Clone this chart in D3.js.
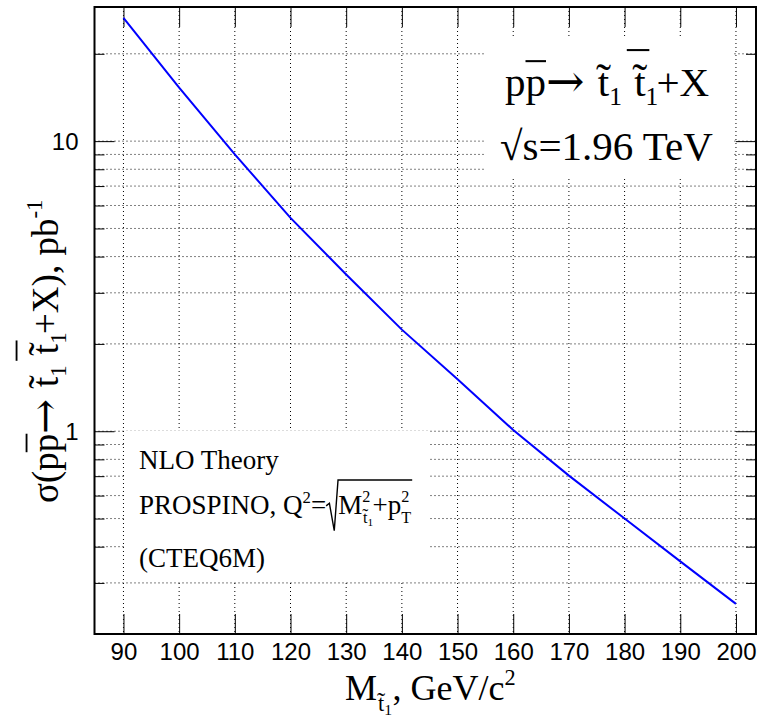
<!DOCTYPE html>
<html><head><meta charset="utf-8">
<script src="https://cdn.jsdelivr.net/npm/d3@7/dist/d3.min.js"></script>
<style>body{margin:0;background:#fff}svg{display:block}</style>
</head><body>
<script>
// ---- data ----
const masses = [90, 100, 110, 120, 130, 140, 150, 160, 170, 180, 190, 200];
const sigma  = [26.6, 15.3, 9.0, 5.44, 3.47, 2.24, 1.51, 1.01, 0.703, 0.50, 0.356, 0.254];
const xTicks = [90, 100, 110, 120, 130, 140, 150, 160, 170, 180, 190, 200];
const yMajor = [1, 10];
const yMinor = [0.2, 0.3, 0.4, 0.5, 0.6, 0.7, 0.8, 0.9, 2, 3, 4, 5, 6, 7, 8, 9, 20];
const yTickLabels = ["1", "10"];

// ---- layout ----
const W = 757, H = 717;
const L = 94.5, R = 756, T = 7, B = 634;
const SERIF = "'Liberation Serif','Times New Roman',serif";
const SANS = "'Liberation Sans',Arial,Helvetica,sans-serif";
const ARROWFONT = "'DejaVu Serif','DejaVu Sans',serif";

const svg = d3.select("body").append("svg").attr("width", W).attr("height", H);
svg.append("rect").attr("width", W).attr("height", H).attr("fill", "#fff");

const x = d3.scaleLinear().domain([84.8, 203.6]).range([L, R]);
const y = d3.scaleLog().domain([0.2, 29]).range([B, T]);

// grid
const grid = svg.append("g").attr("stroke", "#000").attr("stroke-width", 1)
  .attr("stroke-dasharray", "1,3").attr("fill", "none");
xTicks.forEach(v => grid.append("line").attr("x1", x(v)).attr("x2", x(v)).attr("y1", T).attr("y2", B));
yMajor.concat(yMinor).forEach(v => grid.append("line").attr("y1", y(v)).attr("y2", y(v)).attr("x1", L).attr("x2", R));

// white label boxes (cover grid)
svg.append("rect").attr("x", 485).attr("y", 37).attr("width", 249).attr("height", 141).attr("fill", "#fff");
svg.append("rect").attr("x", 124.5).attr("y", 431).attr("width", 304).attr("height", 151).attr("fill", "#fff");

// axes (ROOT-like inward ticks)
function styleAxis(g) {
  g.select(".domain").remove();
  g.selectAll("line").attr("stroke", "#000").attr("stroke-width", 1);
}
const bottomAx = svg.append("g").attr("transform", `translate(0,${B})`)
  .call(d3.axisBottom(x).tickValues(xTicks).tickSize(-20).tickFormat(d3.format("d")));
styleAxis(bottomAx);
bottomAx.selectAll("text").attr("font-family", SANS).attr("font-size", 24).attr("fill", "#000")
  .attr("y", 26).attr("dy", 0);
const topAx = svg.append("g").attr("transform", `translate(0,${T})`)
  .call(d3.axisTop(x).tickValues(xTicks).tickSize(-20).tickFormat(""));
styleAxis(topAx);

const leftMaj = svg.append("g").attr("transform", `translate(${L},0)`)
  .call(d3.axisLeft(y).tickValues(yMajor).tickSize(-20).tickFormat((d, i) => yTickLabels[i]));
styleAxis(leftMaj);
leftMaj.selectAll("text").attr("font-family", SANS).attr("font-size", 24).attr("fill", "#000")
  .attr("x", -16).attr("dy", "0.36em");
const leftMin = svg.append("g").attr("transform", `translate(${L},0)`)
  .call(d3.axisLeft(y).tickValues(yMinor).tickSize(-10).tickFormat(""));
styleAxis(leftMin);
const rightMaj = svg.append("g").attr("transform", `translate(${R},0)`)
  .call(d3.axisRight(y).tickValues(yMajor).tickSize(-20).tickFormat(""));
styleAxis(rightMaj);
const rightMin = svg.append("g").attr("transform", `translate(${R},0)`)
  .call(d3.axisRight(y).tickValues(yMinor).tickSize(-10).tickFormat(""));
styleAxis(rightMin);

// frame
svg.append("rect").attr("x", L).attr("y", T).attr("width", R - L).attr("height", B - T)
  .attr("fill", "none").attr("stroke", "#000").attr("stroke-width", 2);

// curve
const line = d3.line().x((d, i) => x(masses[i])).y(d => y(d));
svg.append("path").datum(sigma).attr("d", line).attr("fill", "none")
  .attr("stroke", "#0000ff").attr("stroke-width", 2);

// ---- rich text helper (ROOT TLatex-like) ----
function put(g, str, px, py, size, anchor, font) {
  const t = g.append("text").attr("x", px).attr("y", py).attr("font-size", size)
    .attr("font-family", font || SERIF).attr("fill", "#000").text(str);
  if (anchor) t.attr("text-anchor", anchor);
  return t.node().getComputedTextLength();
}
function measure(g, str, size, font) {
  const t = g.append("text").attr("font-size", size).attr("font-family", font || SERIF).text(str);
  const w = t.node().getComputedTextLength();
  t.remove();
  return w;
}
function bar(g, x1, x2, yy, size) {
  g.append("line").attr("x1", x1).attr("x2", x2).attr("y1", yy).attr("y2", yy)
    .attr("stroke", "#000").attr("stroke-width", Math.max(1.2, size * 0.05));
}
function layout(g, segs, x0, y0, size) {
  if (typeof segs === "string") segs = [{ t: segs }];
  let cx = x0;
  for (const s of segs) {
    if (typeof s === "string") { cx += put(g, s, cx, y0, size); continue; }
    if (s.t !== undefined) {
      const w = put(g, s.t, cx, y0, size * (s.k || 1), null, s.font);
      if (s.bar) bar(g, cx, cx + w, y0 - s.bar * size, size);
      cx += w;
    } else if (s.arrow) {
      cx += put(g, "\u2192", cx, y0 + 0.02 * size, size * 1.12, null, ARROWFONT);
    } else if (s.tl !== undefined) {
      // letter with tilde accent (+ optional subscript), all in one text element
      const w = measure(g, s.tl, size);
      const ts = size * 1.1;
      const tw = measure(g, "\u02DC", ts);
      const tdy = -0.05 * size;
      const t = g.append("text").attr("x", cx).attr("y", y0).attr("font-size", size)
        .attr("font-family", SERIF).attr("fill", "#000");
      t.append("tspan").text(s.tl);
      t.append("tspan").attr("dx", -(w / 2 + tw / 2)).attr("dy", tdy)
        .attr("font-size", ts).text("\u02DC");
      let endx = cx + w;
      if (s.s1) {
        const sk = s.sk || 0.62, sdy = (s.sdy !== undefined ? s.sdy : 0.22) * size;
        const sw = measure(g, s.s1, size * sk);
        t.append("tspan").attr("dx", w / 2 - tw / 2).attr("dy", sdy - tdy)
          .attr("font-size", size * sk).text(s.s1);
        endx += sw;
      }
      if (s.bar) {
        const bw = Math.max(w, 0.55 * size);
        bar(g, cx + w / 2 - bw / 2, cx + w / 2 + bw / 2, y0 - s.bar * size, size);
      }
      cx = endx;
    } else if (s.stack) {
      const e1 = layout(g, s.sup, cx, y0 - 0.46 * size, size * 0.6);
      const e2 = layout(g, s.sub, cx, y0 + 0.32 * size, size * 0.6);
      cx = Math.max(e1, e2);
    } else if (s.sub !== undefined) {
      cx = layout(g, s.sub, cx, y0 + (s.dy !== undefined ? s.dy : 0.22) * size, size * (s.k || 0.62));
    } else if (s.sup !== undefined) {
      cx = layout(g, s.sup, cx, y0 - 0.42 * size, size * 0.62);
    } else if (s.sqrt) {
      const top = y0 - 1.26 * size, bot = y0 + 0.62 * size;
      const start = cx;
      const inner = layout(g, s.sqrt, cx + 0.45 * size, y0, size);
      g.append("path").attr("fill", "none").attr("stroke", "#000").attr("stroke-width", 1.4)
        .attr("d", `M${start},${y0 - 0.3 * size} L${start + 0.12 * size},${y0 - 0.4 * size} L${start + 0.3 * size},${bot} L${start + 0.44 * size},${top} L${inner + 0.04 * size},${top}`);
      cx = inner;
    } else if (s.gap) {
      cx += s.gap * size;
    }
  }
  return cx;
}

// top-right label
const tr = svg.append("g");
layout(tr, ["p", { t: "p", bar: 0.85 }, { arrow: true }, { gap: 0.28 }, { tl: "t", s1: "1" }, { gap: 0.3 },
  { tl: "t", s1: "1", bar: 1.12 }, "+X"], 505, 96, 41);
layout(tr, ["\u221As=1.96 TeV"], 500, 160, 41);

// bottom-left label
const bl = svg.append("g");
layout(bl, ["NLO Theory"], 139, 469, 27);
layout(bl, ["PROSPINO, Q", { sup: "2" }, "=",
  { sqrt: ["M", { stack: true, sup: "2", sub: [{ tl: "t", s1: "1", sk: 0.7, sdy: 0.2 }] },
           "+p", { stack: true, sup: "2", sub: "T" }] }], 139, 514, 27);
layout(bl, ["(CTEQ6M)"], 139, 567, 27);

// x-axis title
const xt = svg.append("g");
layout(xt, ["M", { sub: [{ tl: "t", s1: "1", sk: 0.7, sdy: 0.2 }], dy: 0.3 }, { gap: 0.04 }, ", GeV/c", { sup: "2" }], 345, 700, 36);

// y-axis title (rotated)
const yt = svg.append("g").attr("transform", "translate(58,503) rotate(-90)");
layout(yt, ["\u03C3(p", { t: "p", bar: 0.85 }, { arrow: true }, { gap: 0.28 }, { tl: "t", s1: "1" }, { gap: 0.3 },
  { tl: "t", s1: "1", bar: 1.12 }, "+X), pb", { sup: "-1" }], 0, 0, 37);
</script>
</body></html>
